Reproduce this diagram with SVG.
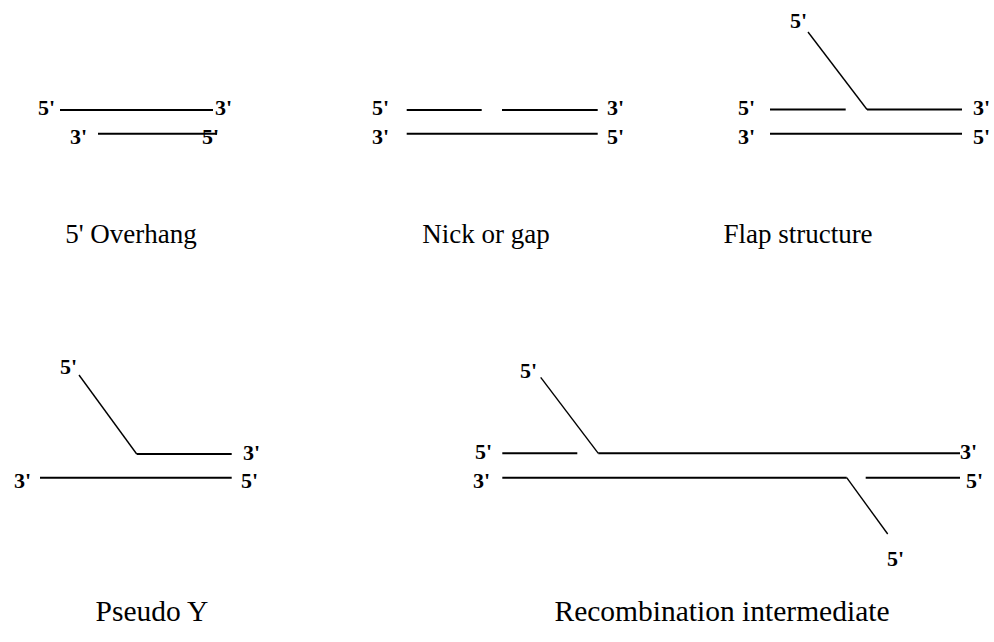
<svg xmlns="http://www.w3.org/2000/svg" width="994" height="642" viewBox="0 0 994 642">
<style>
.s{stroke:#000;stroke-width:2;fill:none}
.d{stroke:#000;stroke-width:1.4;fill:none}
.l{font-family:"Liberation Serif","Times New Roman",serif;font-weight:bold;font-size:22px;fill:#000}
.c{font-family:"Liberation Serif","Times New Roman",serif;font-size:27px;fill:#000;text-anchor:middle}
.b{font-size:29.5px}
</style>
<rect width="994" height="642" fill="#fff"/>
<g id="overhang">
<line class="s" x1="60" y1="110" x2="213" y2="110"/>
<line class="s" x1="98" y1="133.7" x2="217" y2="133.7"/>
<text class="l" x="38" y="115">5'</text>
<text class="l" x="215" y="115">3'</text>
<text class="l" x="70" y="144">3'</text>
<text class="l" x="202" y="144">5'</text>
<text class="c" x="131" y="243">5' Overhang</text>
</g>
<g id="nick">
<line class="s" x1="406.7" y1="110" x2="481.7" y2="110"/>
<line class="s" x1="502" y1="110" x2="597.7" y2="110"/>
<line class="s" x1="406.7" y1="133.7" x2="597.7" y2="133.7"/>
<text class="l" x="372" y="115">5'</text>
<text class="l" x="372" y="144">3'</text>
<text class="l" x="607" y="115">3'</text>
<text class="l" x="607" y="144">5'</text>
<text class="c" x="486" y="243">Nick or gap</text>
</g>
<g id="flap">
<line class="d" x1="808" y1="32" x2="867" y2="109.5"/>
<line class="s" x1="770" y1="109.5" x2="845.7" y2="109.5"/>
<line class="s" x1="867" y1="109.5" x2="962" y2="109.5"/>
<line class="s" x1="770" y1="133.7" x2="962" y2="133.7"/>
<text class="l" x="790" y="28">5'</text>
<text class="l" x="738" y="115">5'</text>
<text class="l" x="738" y="144">3'</text>
<text class="l" x="973" y="115">3'</text>
<text class="l" x="973" y="144">5'</text>
<text class="c" x="798" y="243">Flap structure</text>
</g>
<g id="pseudo-y">
<line class="d" x1="79" y1="375" x2="136.7" y2="454"/>
<line class="s" x1="136.7" y1="454" x2="231.7" y2="454"/>
<line class="s" x1="40" y1="477.7" x2="231.7" y2="477.7"/>
<text class="l" x="60" y="374">5'</text>
<text class="l" x="243" y="460">3'</text>
<text class="l" x="14" y="488">3'</text>
<text class="l" x="241" y="488">5'</text>
<text class="c b" x="152" y="621">Pseudo Y</text>
</g>
<g id="recombination">
<line class="d" x1="540.7" y1="377.3" x2="598.3" y2="453.3"/>
<line class="s" x1="502.3" y1="453.3" x2="577.3" y2="453.3"/>
<line class="s" x1="598.3" y1="453.3" x2="960" y2="453.3"/>
<line class="s" x1="502.3" y1="477.7" x2="846.7" y2="477.7"/>
<line class="d" x1="846.7" y1="477.7" x2="887.7" y2="534"/>
<line class="s" x1="865.7" y1="477.7" x2="960" y2="477.7"/>
<text class="l" x="520" y="378">5'</text>
<text class="l" x="475" y="459">5'</text>
<text class="l" x="473" y="488">3'</text>
<text class="l" x="960" y="459">3'</text>
<text class="l" x="966" y="488">5'</text>
<text class="l" x="887" y="566">5'</text>
<text class="c b" x="722" y="621">Recombination intermediate</text>
</g>
</svg>
